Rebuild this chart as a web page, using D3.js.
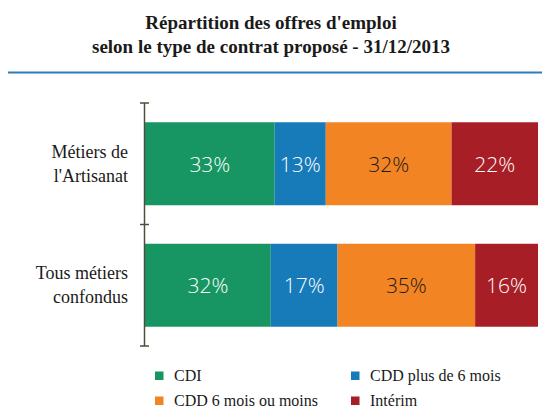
<!DOCTYPE html>
<html><head><meta charset="utf-8">
<script src="https://cdn.jsdelivr.net/npm/d3@7"></script>
<style>body{margin:0;background:#fff;}svg{display:block;}
.serif{font-family:"Liberation Serif","DejaVu Serif",serif;}
</style>
</head><body>
<svg id="c" width="542" height="408"></svg>
<script>
const titleLines = ["Répartition des offres d'emploi", "selon le type de contrat proposé - 31/12/2013"];
const categories = [["Métiers de", "l'Artisanat"], ["Tous métiers", "confondus"]];
const seriesNames = ["CDI", "CDD plus de 6 mois", "CDD 6 mois ou moins", "Intérim"];
const seriesColors = ["#179664", "#177bb9", "#f38424", "#a81e27"];
const labelColors = ["#ffffff", "#ffffff", "#1a1a1a", "#ffffff"];
const values = [[33, 13, 32, 22], [32, 17, 35, 16]];

const svg = d3.select("#c");

// title
svg.selectAll("text.title").data(titleLines).join("text")
  .attr("class","title serif")
  .attr("x", 271).attr("y", (d,i) => 29 + i*24)
  .attr("text-anchor","middle")
  .style("font-weight","bold").style("font-size","19px")
  .attr("fill","#1a1a1a").text(d => d);

svg.append("line").attr("x1",8).attr("x2",542).attr("y1",72.5).attr("y2",72.5)
  .attr("stroke","#2e7dbb").attr("stroke-width",2);

const x = d3.scaleLinear().domain([0,100]).range([145, 538]);
const y = d3.scaleBand().domain(d3.range(categories.length)).range([103, 346])
  .paddingInner(0.317).paddingOuter(0.1585);

// stacked segments
const rows = values.map((vals, r) => {
  let acc = 0;
  return vals.map((v, s) => { const d = {r, s, x0: acc, x1: acc + v, v}; acc += v; return d; });
});
const g = svg.append("g");
g.selectAll("g.row").data(rows).join("g").attr("class","row")
  .selectAll("rect").data(d => d).join("rect")
  .attr("x", d => x(d.x0)).attr("width", d => x(d.x1) - x(d.x0))
  .attr("y", d => y(d.r)).attr("height", y.bandwidth())
  .attr("fill", d => seriesColors[d.s]);

g.selectAll("g.lab").data(rows).join("g").attr("class","lab")
  .selectAll("text").data(d => d).join("text")
  .attr("x", d => (x(d.x0) + x(d.x1)) / 2)
  .attr("y", d => y(d.r) + y.bandwidth()/2 + 8)
  .attr("text-anchor","middle")
  .style("font-family","'Open Sans', sans-serif").style("font-weight","300").style("font-size","21px")
  .attr("fill", d => labelColors[d.s])
  .text(d => d.v + "%");

// axis
const axisColor = "#4f4c3c";
svg.append("line").attr("x1",144.5).attr("x2",144.5).attr("y1",y.range()[0]).attr("y2",y.range()[1])
  .attr("stroke",axisColor).attr("stroke-width",1.5);
const tickYs = d3.range(categories.length + 1).map(i => y.range()[0] + i * y.step());
svg.selectAll("line.tick").data(tickYs).join("line").attr("class","tick")
  .attr("x1",140).attr("x2",149).attr("y1",d=>d).attr("y2",d=>d)
  .attr("stroke",axisColor).attr("stroke-width",1.5);

// category labels
svg.selectAll("text.cat").data(categories).join("text").attr("class","cat serif")
  .attr("x",128).attr("y",(d,i) => y(i) + y.bandwidth()/2 - 6)
  .attr("text-anchor","end")
  .style("font-size","18px").attr("fill","#1a1a1a")
  .selectAll("tspan").data(d => d).join("tspan")
  .attr("x",128).attr("dy",(d,i) => i === 0 ? 0 : 24).text(d => d);

// legend
const legPos = [[155,376],[351,376],[155,401],[351,401]];
const leg = svg.selectAll("g.leg").data(seriesNames).join("g").attr("class","leg")
  .attr("transform",(d,i) => `translate(${legPos[i][0]},${legPos[i][1]})`);
leg.append("rect").attr("x",0).attr("y",-4.5).attr("width",8.5).attr("height",8.5)
  .attr("fill",(d,i) => seriesColors[i]);
leg.append("text").attr("class","serif").attr("x",19).attr("y",5)
  .style("font-size","16px").attr("fill","#1a1a1a")
  .text(d => d);
</script>
</body></html>
